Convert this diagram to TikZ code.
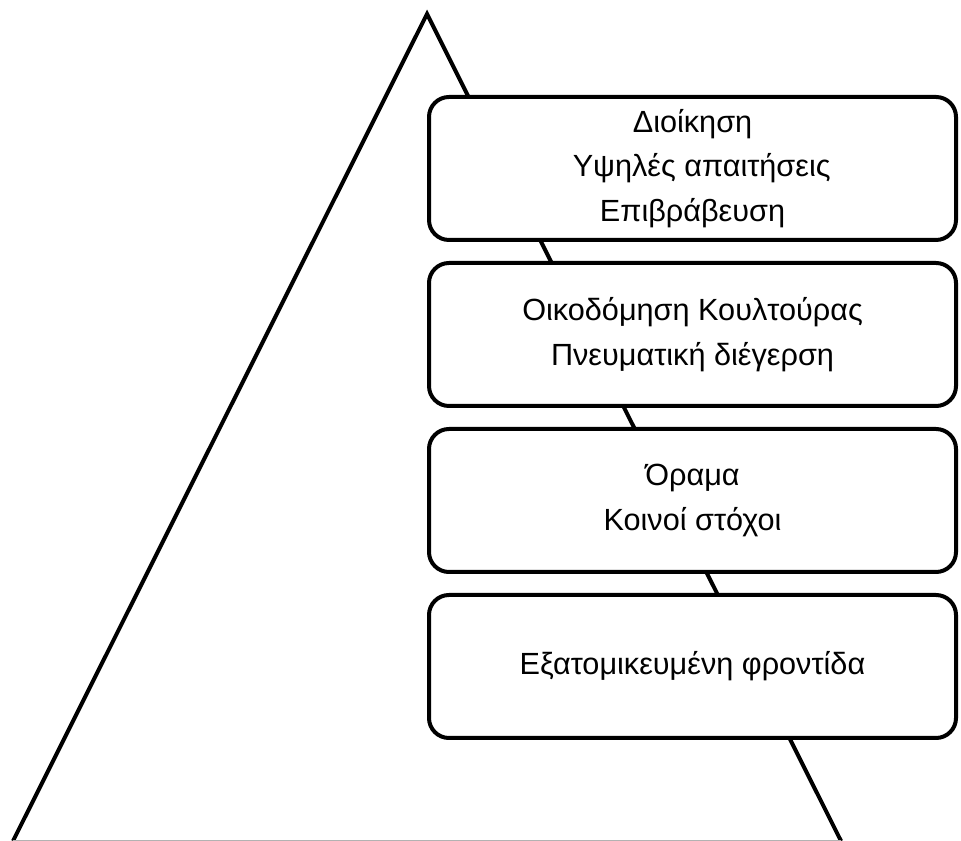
\documentclass[tikz,border=0pt]{standalone}
\usepackage{fontspec}
\setmainfont{Liberation Sans}
\usetikzlibrary{positioning}

\begin{document}
\begin{tikzpicture}[node distance=0.575cm,
		levelBox/.style={
				draw, fill=white, rounded corners=0.5cm, line width=0.1cm,
				minimum width=13.175cm, minimum height=3.575cm,
				outer sep=0pt, inner sep=0pt, align=center,
				font=\fontsize{21.8}{31.6}\selectfont
			},
		pyramidEdge/.style={line width=0.1cm, line join=miter}
	]
	\useasboundingbox (0,0) rectangle (24.025,21.025);

	% Pyramid
	\coordinate (top) at (10.675,20.675);
	\coordinate (bottomLeft) at (0.325,0);
	\coordinate (bottomRight) at (21.025,0);
	\draw[pyramidEdge] (bottomLeft) -- (top) -- (bottomRight);
	\draw[gray!60, line width=0.4pt] ([yshift=0.02cm]bottomLeft) -- ([yshift=0.02cm]bottomRight);

	% Levels
	\node[levelBox] (L1) at (17.3125,16.8125) {Διοίκηση\\ \hspace*{0.6em}Υψηλές απαιτήσεις\\ Επιβράβευση};
	\node[levelBox, below=of L1] (L2) {Οικοδόμηση Κουλτούρας\\ Πνευματική διέγερση};
	\node[levelBox, below=of L2] (L3) {Όραμα\\ Κοινοί στόχοι};
	\node[levelBox, below=of L3] (L4) {Εξατομικευμένη φροντίδα};
\end{tikzpicture}
\end{document}
